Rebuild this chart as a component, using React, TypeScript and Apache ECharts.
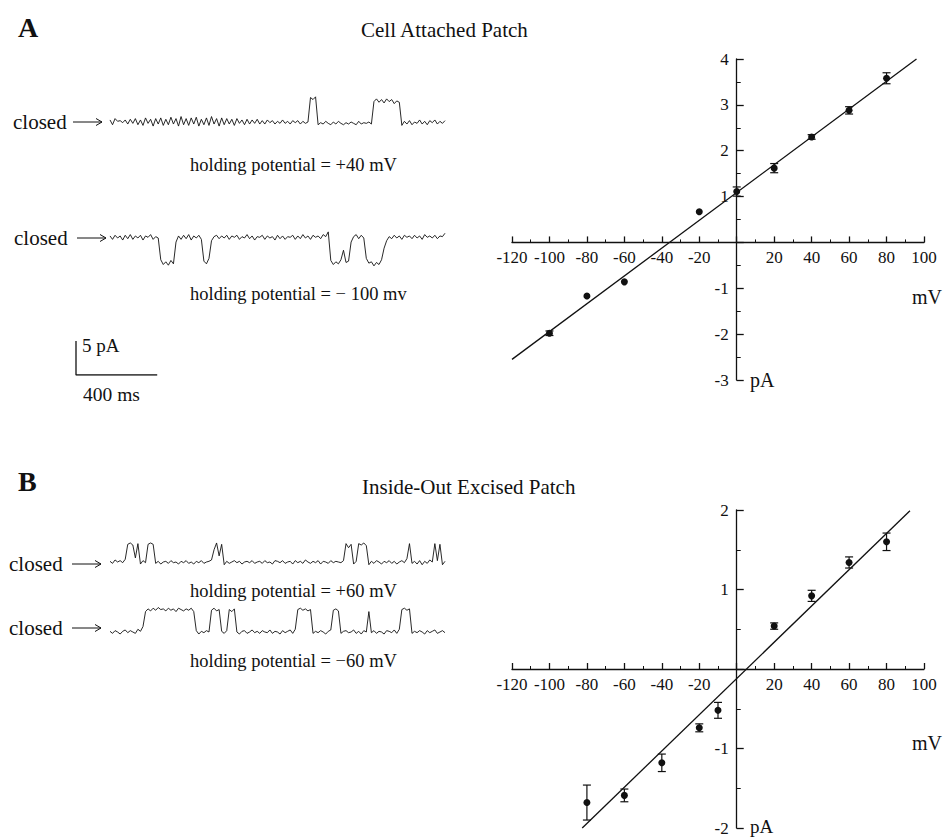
import React, { useEffect, useRef } from "react";
import * as echarts from "echarts";

// ---- single-channel current traces (pA), one sample every SAMPLE_MS ----
const SAMPLE_MS = 12.5;

const TRACE_A_POS40 = [
  0.3, -0.4, 0.5, 0.1, 0.2, -0.1, 0.3, -0.3, 0.4, -0.2,
  0.5, -0.4, 0.3, -0.5, 0.6, -0.2, 0.4, -0.6, 0.5, -0.3,
  0.6, -0.5, 0.4, -0.4, 0.7, -0.3, 0.5, -0.6, 0.8, -0.4,
  0.5, -0.5, 0.6, -0.3, 0.7, -0.6, 0.4, -0.4, 0.6, -0.5,
  0.8, -0.3, 0.5, -0.6, 0.6, -0.4, 0.5, -0.3, 0.4, -0.5,
  0.5, -0.2, 0.3, -0.4, 0.4, -0.3, 0.3, -0.2, 0.4, -0.3,
  0.2, -0.3, 0.3, -0.1, 0.2, -0.3, 0.1, -0.2, 0.3, -0.2,
  0.1, -0.3, 0.2, -0.1, 0.2, -0.3, 0.1, -0.2, 0.0,
  3.6, 3.3, 3.7,
  -0.4, -0.1, -0.3, 0.1, -0.2, -0.4, 0.0, -0.3, 0.1, -0.2, -0.4,
  -0.1, -0.3, 0.0, -0.2, -0.4, 0.1, -0.3, -0.1, -0.2, 0.0, -0.3,
  3.0, 3.4, 2.9, 3.3, 2.8, 3.4, 3.0, 3.3, 2.7, 3.1, 2.9,
  -0.5, 0.1, -0.3, 0.2, -0.4, 0.0, -0.2, 0.3, -0.3, 0.1, -0.4, 0.2,
  -0.1, 0.3, -0.3, 0.1, -0.2, 0.2,
];

const TRACE_A_NEG100 = [
  0.3, -0.2, 0.4, 0.0, 0.3, -0.3, 0.4, -0.1, 0.5, -0.2,
  0.3, 0.0, 0.4, -0.3, 0.3, 0.1, 0.5, -0.2, 0.2, 0.0,
  -3.2, -3.9, -3.5, -4.0, -3.3, -3.8,
  -0.6, 0.3, -0.2, 0.4, -0.1, 0.5, -0.3, 0.3, 0.0, 0.4, -0.2,
  -3.4, -3.8, -3.0,
  -0.4, 0.2, 0.4, -0.1, 0.3, 0.0, 0.4, -0.2, 0.3, 0.1,
  0.4, -0.2, 0.2, 0.0, 0.5, -0.1, 0.3, -0.3, 0.2, 0.1,
  0.4, -0.2, 0.3, 0.0, 0.2, -0.3, 0.4, -0.1, 0.3, -0.2,
  0.2, 0.1, 0.4, -0.2, 0.3, -0.1, 0.5, 0.0, 0.3, -0.2,
  0.4, 0.1, 0.3, -0.1, 0.5, 0.2, 0.9,
  -3.3, -3.9, -3.5, -3.8, -3.2, -1.8, -3.6, -3.4,
  -0.6, 0.2, 0.5, -0.1, 0.4, 0.0,
  -3.0, -3.7, -3.5, -4.1, -3.6, -3.9, -3.2,
  -1.5, -0.4, 0.2, -0.1, 0.4, 0.0, 0.3, -0.2, 0.4, 0.1,
  0.3, -0.1, 0.4, 0.0, 0.3, -0.2, 0.5, 0.1, 0.3, 0.0,
  0.4, -0.1, 0.3, 0.2, 0.7,
];

const TRACE_B_POS60 = [
  0.1, -0.2, 0.3, 0.0, 0.2, -0.1, 0.4,
  2.6, 2.8, 2.5,
  0.6,
  2.7,
  -0.3, 0.2, -0.1,
  2.6, 2.8, 2.6,
  -0.2, 0.1, -0.3, 0.0, 0.1, -0.2, 0.2, -0.1, 0.0, -0.3,
  0.1, -0.1, 0.2, -0.2, 0.0, -0.3, 0.1, -0.1, 0.2, -0.2, 0.0, 0.1, 0.3,
  1.8, 2.8, 0.9, 2.6, -0.4,
  0.1, -0.2, 0.0, 0.2, -0.1, 0.1, -0.3, 0.0, 0.1, -0.1,
  0.2, -0.2, 0.0, 0.1, -0.2, 0.2, -0.1, 0.0, -0.3, 0.2,
  0.1, -0.1, 0.2, -0.2, 0.0, 0.1, -0.3, 0.2, -0.1, 0.1,
  -0.2, 0.3, 0.0, -0.2, 0.1, -0.1, 0.2, -0.3, 0.1, 0.0,
  -0.2, 0.2, -0.1, 0.1, 0.0, -0.1, 0.2,
  2.7, 2.1, 2.6,
  -0.3, 0.1,
  2.7, 2.5, 2.8, 2.4,
  -0.4, 0.1, -0.2, 0.2, 0.0, -0.3, 0.1, -0.1, 0.2, -0.2, 0.1, -0.3, 0.0, 0.2, -0.1,
  0.5,
  2.7,
  -0.2, 0.1, -0.3, 0.2, -0.4, 0.1, -0.2, 0.3, 0.0,
  2.7,
  0.2,
  2.6,
  -0.4, 0.1,
];

const TRACE_B_NEG60 = [
  0.1, -0.2, 0.2, 0.0, -0.3, 0.1, 0.3, -0.1, 0.2, 0.0, -0.2, 0.4, 0.1, 0.8,
  3.0, 3.4, 3.1, 3.5, 3.2, 3.6, 3.3, 3.4, 3.1, 3.5,
  3.2, 3.4, 3.0, 3.5, 3.3, 3.1, 3.4, 3.2, 3.5, 3.0,
  0.2, -0.3, 0.1, -0.1, 0.2, 0.0,
  3.2, 3.5, 3.1, 3.3,
  0.1, -0.2, 0.2,
  3.3, 3.0, 3.4,
  0.0, -0.3, 0.1, 0.2, -0.2, 0.0, 0.3, -0.1, 0.1, -0.2, 0.2, 0.0,
  -0.1, 0.3, -0.2, 0.1, 0.0, -0.3, 0.2, -0.1, 0.1, 0.3, -0.2, 0.4,
  3.3, 3.5, 3.2, 3.4, 3.1, 3.3,
  -0.2, 0.1, -0.1, 0.2, 0.0, -0.3, 0.1, 0.3,
  3.2, 3.4, 3.1,
  -0.2, 0.1, 0.2, -0.1, 0.0, 0.3, -0.2, 0.1, -0.3, 0.2, 0.0,
  3.0,
  -0.1, 0.2, -0.2, 0.1, 0.0, -0.3, 0.2, 0.1, -0.1, 0.3, -0.2, 0.4,
  3.3, 3.5, 3.2, 3.4,
  -0.2, 0.1, -0.1, 0.2, 0.0, -0.3, 0.2, -0.1, 0.1, 0.3, -0.2, 0.0, 0.2, -0.1,
];

// ---- calibration bar ----
const SCALE_BAR_PA = 5;
const SCALE_BAR_MS = 400;
const TRACE_SPAN_MS = 1650;

// ---- current–voltage relations ----
const IV_A_MV = [-100, -80, -60, -20, 0, 20, 40, 60, 80];
const IV_A_PA = [-1.98, -1.17, -0.86, 0.67, 1.11, 1.62, 2.3, 2.88, 3.58];
const IV_A_SEM = [0.05, 0, 0, 0, 0.1, 0.1, 0.05, 0.08, 0.12];
const FIT_A = [[-120, -2.55], [96, 4.0]];
const PA_RANGE_A = [-3, 4];

const IV_B_MV = [-80, -60, -40, -20, -10, 20, 40, 60, 80];
const IV_B_PA = [-1.68, -1.59, -1.18, -0.74, -0.52, 0.54, 0.92, 1.34, 1.6];
const IV_B_SEM = [0.22, 0.08, 0.11, 0.05, 0.1, 0.04, 0.07, 0.07, 0.11];
const FIT_B = [[-82.5, -2.0], [92.5, 1.99]];
const PA_RANGE_B = [-2, 2];

const MV_RANGE = [-120, 100];
const MV_STEP = 20;

const INK = "#111111";
const SERIF = "'Liberation Serif', 'DejaVu Serif', 'Times New Roman', serif";

function toSeries(values: number[]) {
  return values.map((v, i) => [i * SAMPLE_MS, v]);
}

function label(text: string, x: number, y: number, size = 20, weight: any = "normal") {
  return {
    type: "text",
    x,
    y,
    silent: true,
    style: {
      text,
      fill: INK,
      fontFamily: SERIF,
      fontSize: size,
      fontWeight: weight,
      verticalAlign: "middle",
      align: "left",
    },
  };
}

function closedArrow(x0: number, x1: number, y: number) {
  return [
    { type: "line", silent: true, shape: { x1: x0, y1: y, x2: x1, y2: y }, style: { stroke: INK, lineWidth: 1 } },
    {
      type: "polyline",
      silent: true,
      shape: { points: [[x1 - 6, y - 3.5], [x1, y], [x1 - 6, y + 3.5]] },
      style: { stroke: INK, lineWidth: 1, fill: "none" },
    },
  ];
}

// Axes of an I–V panel cross at the origin: each axis is shifted from the
// grid edge to the zero of the other axis.
function ivAxes(gridIndex: number, grid: { width: number; height: number }, paRange: number[]) {
  const line = { color: INK, width: 1.3 };
  const fmt = (v: number) => (v === 0 ? "" : String(v));
  const [xMin, xMax] = MV_RANGE;
  const [yMin, yMax] = paRange;
  const xOffset = -((0 - yMin) / (yMax - yMin)) * grid.height;
  const yOffset = -((0 - xMin) / (xMax - xMin)) * grid.width;
  const x = {
    gridIndex,
    type: "value",
    min: xMin,
    max: xMax,
    interval: MV_STEP,
    position: "bottom",
    offset: xOffset,
    axisLine: { show: true, onZero: false, lineStyle: line },
    axisTick: { show: true, inside: true, length: 6, lineStyle: line },
    minorTick: { show: true, splitNumber: 2, length: 3, lineStyle: { color: INK, width: 1 } },
    axisLabel: { formatter: fmt, color: INK, fontFamily: SERIF, fontSize: 17, margin: 7 },
    splitLine: { show: false },
    minorSplitLine: { show: false },
  };
  const y = {
    gridIndex,
    type: "value",
    min: yMin,
    max: yMax,
    interval: 1,
    position: "left",
    offset: yOffset,
    axisLine: { show: true, onZero: false, lineStyle: line },
    axisTick: { show: true, inside: true, length: 7, lineStyle: line },
    minorTick: { show: true, splitNumber: 2, length: 4, lineStyle: { color: INK, width: 1 } },
    axisLabel: { formatter: fmt, color: INK, fontFamily: SERIF, fontSize: 17, margin: 8 },
    splitLine: { show: false },
    minorSplitLine: { show: false },
  };
  return { x, y };
}

function errorBars(xs: number[], ys: number[], errs: number[], axisIndex: number) {
  return {
    type: "custom",
    xAxisIndex: axisIndex,
    yAxisIndex: axisIndex,
    encode: { x: 0, y: 1 },
    data: xs.map((x, i) => [x, ys[i], errs[i]]),
    z: 3,
    renderItem: (_params: any, api: any) => {
      const x = api.value(0);
      const y = api.value(1);
      const e = api.value(2);
      if (!e) return { type: "group", children: [] };
      const top = api.coord([x, y + e]);
      const bot = api.coord([x, y - e]);
      const half = 4;
      const style = { stroke: INK, lineWidth: 1.2 };
      return {
        type: "group",
        children: [
          { type: "line", shape: { x1: top[0], y1: top[1], x2: bot[0], y2: bot[1] }, style },
          { type: "line", shape: { x1: top[0] - half, y1: top[1], x2: top[0] + half, y2: top[1] }, style },
          { type: "line", shape: { x1: bot[0] - half, y1: bot[1], x2: bot[0] + half, y2: bot[1] }, style },
        ],
      };
    },
  };
}

function buildOption() {
  // trace panels share one time / current scale
  const traceGrids = [
    { left: 110, top: 88, width: 335, height: 68 },
    { left: 110, top: 204, width: 335, height: 68 },
    { left: 110, top: 528, width: 335, height: 68 },
    { left: 110, top: 598, width: 335, height: 68 },
  ];
  const scaleGrid = { left: 76, top: 307, width: 335, height: 68 };
  const ivGridA = { left: 512, top: 59, width: 412, height: 321 };
  const ivGridB = { left: 512, top: 510, width: 412, height: 318 };

  const hiddenX = (gridIndex: number) => ({ gridIndex, type: "value", min: 0, max: TRACE_SPAN_MS, show: false });
  const hiddenY = (gridIndex: number, min: number, max: number) => ({ gridIndex, type: "value", min, max, show: false });

  const ivA = ivAxes(5, ivGridA, PA_RANGE_A);
  const ivB = ivAxes(6, ivGridB, PA_RANGE_B);

  const traces = [TRACE_A_POS40, TRACE_A_NEG100, TRACE_B_POS60, TRACE_B_NEG60];

  const traceSeries = traces.map((t, i) => ({
    type: "line",
    xAxisIndex: i,
    yAxisIndex: i,
    data: toSeries(t),
    symbol: "none",
    lineStyle: { color: INK, width: 0.9 },
    silent: true,
  }));

  const scaleSeries = {
    type: "line",
    xAxisIndex: 4,
    yAxisIndex: 4,
    data: [[0, SCALE_BAR_PA], [0, 0], [SCALE_BAR_MS, 0]],
    symbol: "none",
    lineStyle: { color: INK, width: 1.3 },
    silent: true,
  };

  const dots = (xs: number[], ys: number[], idx: number) => ({
    type: "scatter",
    xAxisIndex: idx,
    yAxisIndex: idx,
    data: xs.map((x, i) => [x, ys[i]]),
    symbol: "circle",
    symbolSize: 7,
    itemStyle: { color: INK, opacity: 1 },
    z: 4,
    silent: true,
  });

  const fit = (pts: number[][], idx: number) => ({
    type: "line",
    xAxisIndex: idx,
    yAxisIndex: idx,
    data: pts,
    symbol: "none",
    clip: false,
    lineStyle: { color: INK, width: 1.3 },
    silent: true,
  });

  const graphics: any[] = [
    label("A", 18, 27, 28, "bold"),
    label("Cell Attached Patch", 361, 30, 21),
    label("closed", 13, 122, 21),
    ...closedArrow(73, 102, 122),
    label("holding potential = +40 mV", 190, 165, 18.5),
    label("closed", 14, 238, 21),
    ...closedArrow(77, 106, 238),
    label("holding potential = \u2212 100 mv", 190, 294, 18.5),
    label("5 pA", 82, 345, 19),
    label("400 ms", 83, 394, 19.5),
    label("mV", 912, 297, 20),
    label("pA", 750, 380, 20),
    label("B", 18, 481, 28, "bold"),
    label("Inside-Out Excised Patch", 362, 487, 21),
    label("closed", 9, 564, 21),
    ...closedArrow(72, 101, 564),
    label("holding potential = +60 mV", 190, 591, 18.5),
    label("closed", 9, 628, 21),
    ...closedArrow(72, 101, 628),
    label("holding potential = \u221260 mV", 190, 661, 18.5),
    label("mV", 912, 743, 20),
    label("pA", 750, 826, 19),
  ];

  return {
    animation: false,
    backgroundColor: "#ffffff",
    grid: [...traceGrids, scaleGrid, ivGridA, ivGridB],
    xAxis: [hiddenX(0), hiddenX(1), hiddenX(2), hiddenX(3), hiddenX(4), ivA.x, ivB.x],
    yAxis: [
      hiddenY(0, -5, 5),
      hiddenY(1, -5, 5),
      hiddenY(2, -5, 5),
      hiddenY(3, -5, 5),
      hiddenY(4, 0, 10),
      ivA.y,
      ivB.y,
    ],
    series: [
      ...traceSeries,
      scaleSeries,
      fit(FIT_A, 5),
      errorBars(IV_A_MV, IV_A_PA, IV_A_SEM, 5),
      dots(IV_A_MV, IV_A_PA, 5),
      fit(FIT_B, 6),
      errorBars(IV_B_MV, IV_B_PA, IV_B_SEM, 6),
      dots(IV_B_MV, IV_B_PA, 6),
    ],
    graphic: graphics,
  };
}

export default function App() {
  const ref = useRef<HTMLDivElement>(null);
  useEffect(() => {
    if (!ref.current) return;
    const chart = echarts.init(ref.current, undefined, { renderer: "svg" });
    chart.setOption(buildOption() as any);
    return () => chart.dispose();
  }, []);
  return (
    <div
      ref={ref}
      style={{ position: "fixed", left: 0, top: 0, width: 944, height: 839, background: "#fff" }}
    />
  );
}
